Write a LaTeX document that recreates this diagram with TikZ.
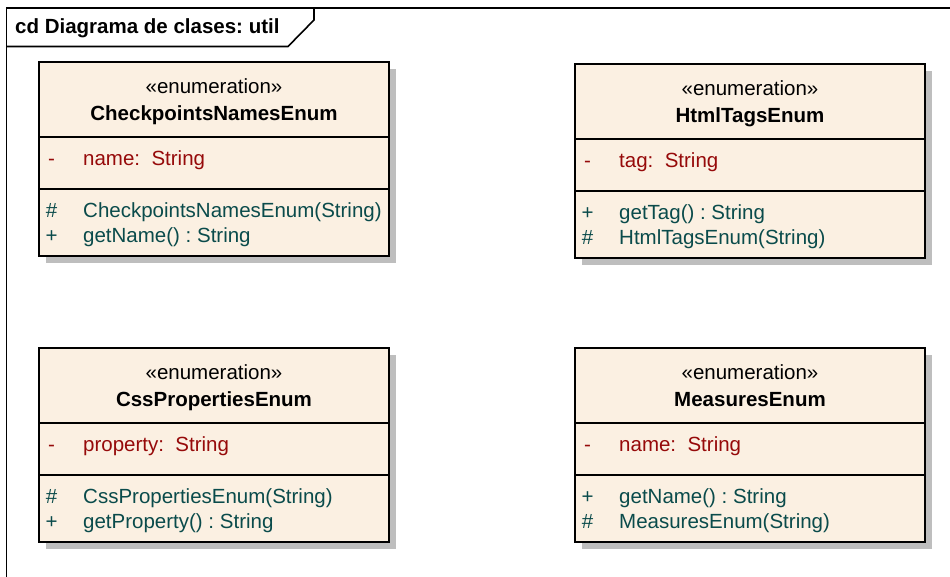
\documentclass[tikz,border=0pt]{standalone}
\usepackage{fontspec}
\setmainfont{Liberation Sans}
\frenchspacing
\definecolor{enumfill}{RGB}{251,240,226}
\definecolor{attrcol}{RGB}{150,10,10}
\definecolor{opcol}{RGB}{10,75,75}
\definecolor{shadowcol}{RGB}{190,190,190}
\tikzset{
  umlfont/.style={font=\fontsize{20.5}{24}\selectfont},
  enumbox/.style={draw=black, line width=2pt, fill=enumfill, rectangle,
    anchor=north west, minimum width=350pt, minimum height=194pt,
    inner sep=0pt, outer sep=0pt},
  boxshadow/.style={fill=shadowcol, draw=none},
  sepline/.style={draw=black, line width=2pt},
  headtxt/.style={umlfont, anchor=base, inner sep=0pt},
  symtxt/.style={umlfont, anchor=base, inner sep=0pt},
  membertxt/.style={umlfont, anchor=base west, inner sep=0pt},
  framepath/.style={draw=black, line width=1.6pt},
}
% #1 name prefix, #2 x, #3 y, #4 class name, #5 attribute,
% #6/#7 first operation (symbol, text), #8/#9 second operation
\newcommand\enumclass[9]{%
  \fill[boxshadow] (#2+7,#3+7) rectangle (#2+357,#3+201);
  \node[enumbox] (#1) at (#2,#3) {};
  \draw[sepline] ([yshift=-75pt]#1.north west) -- ([yshift=-75pt]#1.north east);
  \draw[sepline] ([yshift=-127pt]#1.north west) -- ([yshift=-127pt]#1.north east);
  \node[headtxt] (#1-st) at ([yshift=-31.6pt]#1.north) {«enumeration»};
  \node[headtxt, font=\fontsize{20.5}{24}\selectfont\bfseries] (#1-nm) at ([yshift=-58.3pt]#1.north) {#4};
  \node[symtxt, text=attrcol] (#1-as) at ([xshift=12.5pt,yshift=-103.3pt]#1.north west) {-};
  \node[membertxt, text=attrcol] (#1-at) at ([xshift=44pt,yshift=-103.3pt]#1.north west) {#5};
  \node[symtxt, text=opcol] (#1-s1) at ([xshift=12.5pt,yshift=-155.3pt]#1.north west) {#6};
  \node[membertxt, text=opcol] (#1-o1) at ([xshift=44pt,yshift=-155.3pt]#1.north west) {#7};
  \node[symtxt, text=opcol] (#1-s2) at ([xshift=12.5pt,yshift=-180.3pt]#1.north west) {#8};
  \node[membertxt, text=opcol] (#1-o2) at ([xshift=44pt,yshift=-180.3pt]#1.north west) {#9};
}
\begin{document}
\begin{tikzpicture}[x=1pt, y=-1pt]
  \useasboundingbox (0,0) rectangle (950,577);
  \fill[white] (0,0) rectangle (950,577);
  % diagram frame with its name tab
  \draw[framepath] (960,8) -- (6.5,8) -- (6.5,590);
  \draw[framepath] (6.5,46.5) -- (288,46.5) -- (314,20) -- (314,8);
  \node[umlfont, font=\fontsize{20.5}{24}\selectfont\bfseries, anchor=base west, inner sep=0pt]
    (title) at (15,33.5) {cd Diagrama de clases: util};
  % enumerations
  \enumclass{cpn}{39}{62}{CheckpointsNamesEnum}{name:\ \ String}
    {\#}{CheckpointsNamesEnum(String)}{+}{getName() : String}
  \enumclass{html}{575}{64}{HtmlTagsEnum}{tag:\ \ String}
    {+}{getTag() : String}{\#}{HtmlTagsEnum(String)}
  \enumclass{css}{39}{348}{CssPropertiesEnum}{property:\ \ String}
    {\#}{CssPropertiesEnum(String)}{+}{getProperty() : String}
  \enumclass{meas}{575}{348}{MeasuresEnum}{name:\ \ String}
    {+}{getName() : String}{\#}{MeasuresEnum(String)}
\end{tikzpicture}
\end{document}
